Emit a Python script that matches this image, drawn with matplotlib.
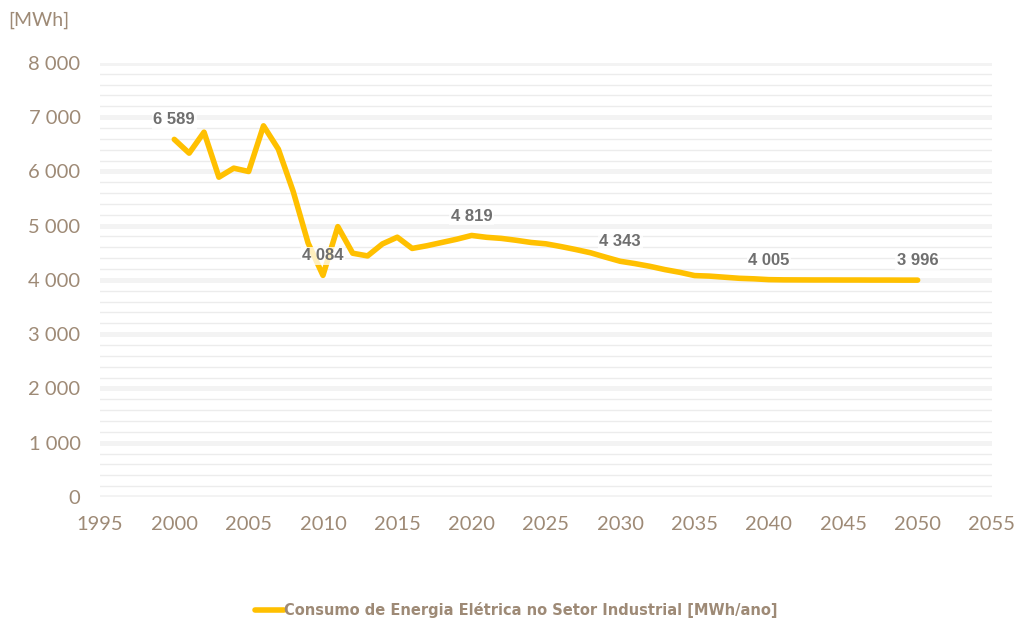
import matplotlib
matplotlib.use('Agg')
import matplotlib.pyplot as plt
from matplotlib.ticker import MultipleLocator, FuncFormatter

years = list(range(2000, 2051))
consumo = [6589, 6335, 6722, 5893, 6059, 5997, 6839, 6409, 5628, 4680,
           4084, 4982, 4492, 4442, 4663, 4787, 4580, 4630, 4690, 4750,
           4819, 4785, 4765, 4730, 4690, 4665, 4615, 4560, 4500, 4420,
           4343, 4300, 4250, 4190, 4140, 4080, 4070, 4050, 4030, 4020,
           4005, 4001, 4000, 3999, 3999, 3998, 3998, 3997, 3997, 3996,
           3996]
label_years = [2000, 2010, 2020, 2030, 2040, 2050]

tick_col = '#9e8a76'
label_col = '#6f6f6f'
line_col = '#ffc000'

def fmt(v, pos=None):
    return '{:,.0f}'.format(v).replace(',', ' ')

fig = plt.figure(figsize=(10.2, 6.23), dpi=100)
ax = fig.add_axes([0.098, 0.2022, 0.8745, 0.697])

ax.plot(years, consumo, color=line_col, lw=4.0, solid_capstyle='round',
        solid_joinstyle='round', zorder=3,
        label='Consumo de Energia Elétrica no Setor Industrial [MWh/ano]')

for y in label_years:
    v = consumo[years.index(y)]
    ax.annotate(fmt(v), (y, v), xytext=(0, 14), textcoords='offset points',
                ha='center', va='center', fontsize=12, fontweight='bold',
                color=label_col, family='Liberation Sans', zorder=4,
                bbox=dict(boxstyle='square,pad=0.1', fc='white', ec='none', alpha=0.75))

ax.set_xlim(1995, 2055)
ax.set_ylim(0, 8000)
ax.xaxis.set_major_locator(MultipleLocator(5))
ax.yaxis.set_major_locator(MultipleLocator(1000))
ax.yaxis.set_minor_locator(MultipleLocator(200))
ax.yaxis.set_major_formatter(FuncFormatter(fmt))
ax.grid(True, which='major', axis='y', color='#f3f3f3', lw=3.5, zorder=0)
ax.grid(True, which='minor', axis='y', color='#ececec', lw=1.0, zorder=0)
ax.grid(False, axis='x')
for s in ax.spines.values():
    s.set_visible(False)
ax.tick_params(axis='both', which='both', length=0, colors=tick_col, labelsize=14.5)
ax.tick_params(axis='x', pad=14)
ax.tick_params(axis='y', pad=14)
for t in ax.get_xticklabels() + ax.get_yticklabels():
    t.set_family('Lato')

fig.text(0.008, 0.968, '[MWh]', color=tick_col, fontsize=14, family='Lato',
         ha='left', va='center')

leg = fig.legend(loc='center', bbox_to_anchor=(0.506, 0.021), frameon=False,
                 handlelength=2.0, handletextpad=0.0,
                 prop={'family': 'DejaVu Sans', 'weight': 'bold', 'size': 10.5})
for t in leg.get_texts():
    t.set_color(tick_col)

fig.savefig('out.png', dpi=100)
